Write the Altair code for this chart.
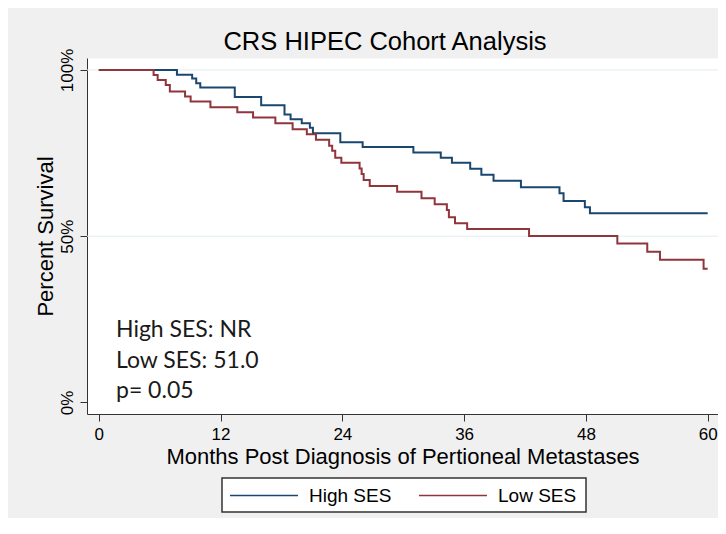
import altair as alt
import pandas as pd

# ---- data ----
groups = ["High SES", "Low SES"]
colors = ["#1a476f", "#90353b"]

high_t = [0, 7.7, 9.2, 9.6, 10.0, 13.4, 16.0, 18.3, 18.9, 20.0, 20.8, 21.1, 23.8, 26.0,
          31.0, 33.7, 34.8, 36.6, 37.7, 38.9, 41.6, 45.4, 45.8, 47.9, 48.4, 60]
high_s = [100, 98.6, 97.4, 96.0, 94.7, 91.9, 89.4, 86.6, 85.2, 84.0, 82.6, 81.0, 78.3, 76.8,
          75.2, 73.6, 72.1, 70.3, 68.5, 66.7, 64.7, 62.9, 60.6, 58.7, 56.9, 56.9]

low_t = [0, 5.4, 5.8, 6.6, 7.0, 8.5, 9.05, 11.0, 13.65, 15.2, 17.4, 19.1, 20.5, 21.4, 22.7,
         23.0, 23.3, 23.9, 25.7, 25.9, 26.1, 26.7, 29.4, 31.8, 33.1, 34.3, 34.5, 35.1, 36.3,
         42.4, 51.1, 54.05, 55.3, 59.6, 60]
low_s = [100, 98.5, 97.0, 95.5, 93.5, 92.0, 90.5, 88.8, 87.3, 85.7, 84.0, 82.2, 80.7, 79.0, 77.2,
         75.7, 73.6, 72.1, 70.4, 68.7, 66.9, 65.1, 63.4, 61.4, 59.6, 57.9, 55.7, 53.9, 52.2,
         50.1, 47.8, 45.3, 42.9, 40.2, 40.2]

x_ticks = [0, 12, 24, 36, 48, 60]
y_ticks = [0, 50, 100]
grid_vals = [50, 100]

title_text = "CRS HIPEC Cohort Analysis"
x_title = "Months Post Diagnosis of Pertioneal Metastases"
y_title = "Percent Survival"
note_lines = ["High SES: NR", "Low SES: 51.0", "p= 0.05"]

# ---- build table ----
rows = [{"group": groups[0], "t": t, "s": s} for t, s in zip(high_t, high_s)]
rows += [{"group": groups[1], "t": t, "s": s} for t, s in zip(low_t, low_s)]
df = pd.DataFrame(rows)

W, H = 631, 356
FONT = "Liberation Sans"

xs = alt.Scale(domain=[-1.163, 61.02], nice=False, zero=False)
ys = alt.Scale(domain=[-3.46, 103.6], nice=False, zero=False)

x_axis = alt.Axis(values=x_ticks, title=x_title, grid=False, tickSize=7,
                  labelFontSize=17, labelBaseline="alphabetic", labelPadding=18,
                  titleFontSize=22, titleFontWeight="normal", titleBaseline="alphabetic",
                  titleY=49)
y_axis = alt.Axis(values=y_ticks, title=y_title, grid=False, tickSize=7,
                  labelExpr="datum.value + '%'", labelAngle=270, labelAlign="center",
                  labelBaseline="alphabetic", labelPadding=8, labelFontSize=17,
                  titleFontSize=22, titleFontWeight="normal", titleAngle=270,
                  titleBaseline="alphabetic", titleX=-35)

grid = alt.Chart(pd.DataFrame({"g": grid_vals})).mark_rule(
    color="#e2eef1", strokeWidth=1
).encode(y=alt.Y("g:Q", scale=ys, axis=y_axis))

lines = alt.Chart(df).mark_line(interpolate="step-after", strokeWidth=2).encode(
    x=alt.X("t:Q", scale=xs, axis=x_axis),
    y=alt.Y("s:Q", scale=ys, axis=y_axis),
    color=alt.Color("group:N", scale=alt.Scale(domain=groups, range=colors), legend=None),
)

title = alt.Chart(pd.DataFrame({"txt": [title_text]})).mark_text(
    align="center", baseline="alphabetic", font=FONT, fontSize=25.5, color="black"
).encode(x=alt.value(298), y=alt.value(-8), text="txt:N")

notes = alt.Chart(pd.DataFrame({"txt": ["\n".join(note_lines)]})).mark_text(
    align="left", baseline="alphabetic", lineBreak="\n", lineHeight=30.5,
    font="Lato", fontSize=23, color="#1a1a1a"
).encode(x=alt.value(29), y=alt.value(279), text="txt:N")

# ---- manual legend box (below the plot, as in the reference) ----
one = pd.DataFrame({"k": [0]})
legend_box = alt.Chart(one).mark_rect(
    fill="white", stroke="#333", strokeWidth=1.5
).encode(x=alt.value(135), x2=alt.value(499), y=alt.value(420), y2=alt.value(454))

legend_layers = [legend_box]
sym_x = [143, 332]
for i, g in enumerate(groups):
    legend_layers.append(
        alt.Chart(one).mark_rule(color=colors[i], strokeWidth=1.5).encode(
            x=alt.value(sym_x[i]), x2=alt.value(sym_x[i] + 68), y=alt.value(437.5)
        )
    )
    legend_layers.append(
        alt.Chart(pd.DataFrame({"txt": [g]})).mark_text(
            align="left", baseline="alphabetic", font=FONT, fontSize=19, color="black"
        ).encode(x=alt.value(sym_x[i] + 79), y=alt.value(444), text="txt:N")
    )

chart = alt.layer(grid, lines, notes, title, *legend_layers).properties(
    width=W, height=H,
    autosize=alt.AutoSizeParams(type="none"),
    padding={"left": 79, "top": 50, "right": 0, "bottom": 104},
    background="#f0f0f0",
).configure_view(
    fill="white", stroke="transparent"
).configure_axis(
    labelFont=FONT, titleFont=FONT, labelColor="black", titleColor="black",
    domainColor="#333", tickColor="#333", domainWidth=1, tickWidth=1,
)

chart.save("out.html", embed_options={"renderer": "svg", "actions": False})
